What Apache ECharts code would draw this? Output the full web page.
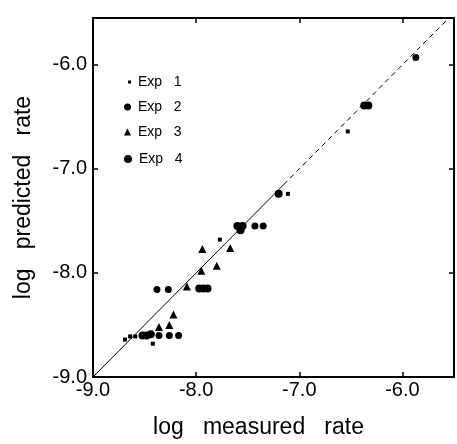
<!DOCTYPE html>
<html><head><meta charset="utf-8">
<script src="https://cdn.jsdelivr.net/npm/echarts@6/dist/echarts.min.js"></script>
<style>html,body{margin:0;padding:0;background:#fff}#c{width:457px;height:444px}</style>
</head><body><div id="c"></div>
<script>
// Axis ranges / tick labels
const xRange = [-9.0, -5.5];
const yRange = [-9.0, -5.55];
const tickValues = [-9, -8, -7, -6];
const tickLabels = ['-9.0', '-8.0', '-7.0', '-6.0'];

// Identity line (predicted = measured), solid and dashed parts
const lineSolid = [[-9.0, -9.0], [-7.15, -7.15]];
const lineDashed = [[-7.15, -7.15], [-5.5, -5.5]];

// Experiments: [log measured rate, log predicted rate]
const exp1 = [[-7.11, -7.24], [-7.77, -7.68], [-8.42, -8.68], [-8.69, -8.64], [-8.64, -8.61], [-8.59, -8.61], [-6.53, -6.64]];
const exp2 = [[-5.87, -5.93], [-7.43, -7.55], [-7.35, -7.55], [-8.38, -8.16], [-8.27, -8.16], [-8.36, -8.60], [-8.26, -8.60], [-8.17, -8.60]];
const exp3 = [[-7.94, -7.77], [-7.67, -7.76], [-7.80, -7.93], [-7.95, -7.98], [-8.09, -8.13], [-8.22, -8.40], [-8.26, -8.50], [-8.36, -8.52]];
const exp4 = [[-6.37, -6.39], [-6.33, -6.39], [-7.20, -7.24], [-7.60, -7.55], [-7.55, -7.55], [-7.57, -7.59],
              [-7.97, -8.15], [-7.93, -8.15], [-7.89, -8.15], [-8.52, -8.60], [-8.48, -8.60], [-8.44, -8.59]];

const names = ['Exp   1', 'Exp   2', 'Exp   3', 'Exp   4'];

const font = 'Liberation Sans, Arial, sans-serif';
function fmt(v) {
  const i = tickValues.indexOf(Math.round(v * 100) / 100);
  return i >= 0 ? tickLabels[i] : '';
}
const axisCommon = {
  type: 'value', interval: 1,
  axisLine: { show: true, onZero: false, lineStyle: { color: '#000', width: 2 } },
  axisTick: { show: true, inside: true, length: 5, lineStyle: { color: '#000', width: 1.5 } },
  splitLine: { show: false }
};
const chart = echarts.init(document.getElementById('c'), null, { renderer: 'canvas' });
const legendBase = {
  orient: 'vertical', left: 119, itemGap: 0,
  textStyle: { fontFamily: font, fontSize: 14, color: '#000', padding: [0, 0, 0, 2] },
  selectedMode: false
};
const mark = { color: '#000', opacity: 1 };
chart.setOption({
  animation: false,
  backgroundColor: '#fff',
  grid: { left: 93, right: 3, top: 18, bottom: 62, show: false },
  legend: [
    Object.assign({}, legendBase, { data: [{ name: names[0], icon: 'rect' }], itemWidth: 3, itemHeight: 3, top: 70, left: 123 }),
    Object.assign({}, legendBase, { data: [{ name: names[1], icon: 'circle' }], itemWidth: 7, itemHeight: 7, top: 95 }),
    Object.assign({}, legendBase, { data: [{ name: names[2], icon: 'triangle' }], itemWidth: 7, itemHeight: 7, top: 120 }),
    Object.assign({}, legendBase, { data: [{ name: names[3], icon: 'circle' }], itemWidth: 8, itemHeight: 8, top: 147 })
  ],
  xAxis: [
    Object.assign({}, axisCommon, {
      min: xRange[0], max: xRange[1], position: 'bottom',
      name: 'log   measured   rate', nameLocation: 'middle', nameGap: 39,
      nameTextStyle: { fontFamily: font, fontSize: 23, color: '#000', padding: [0, 30, 0, 0] },
      axisLabel: { fontFamily: font, fontSize: 20, color: '#000', margin: 3, formatter: fmt, showMaxLabel: false }
    }),
    Object.assign({}, axisCommon, {
      min: xRange[0], max: xRange[1], position: 'top', axisLabel: { show: false }
    })
  ],
  yAxis: [
    Object.assign({}, axisCommon, {
      min: yRange[0], max: yRange[1], position: 'left',
      name: 'log   predicted   rate', nameLocation: 'middle', nameGap: 58,
      nameTextStyle: { fontFamily: font, fontSize: 23, color: '#000' },
      axisLabel: { fontFamily: font, fontSize: 20, color: '#000', margin: 6, formatter: fmt, showMaxLabel: false }
    }),
    Object.assign({}, axisCommon, {
      min: yRange[0], max: yRange[1], position: 'right', axisLabel: { show: false }
    })
  ],
  series: [
    { type: 'line', data: lineSolid, symbol: 'none', silent: true, lineStyle: { color: '#000', width: 1 } },
    { type: 'line', data: lineDashed, symbol: 'none', silent: true, lineStyle: { color: '#000', width: 1, type: [5, 4] } },
    { name: names[0], type: 'scatter', data: exp1, symbol: 'rect', symbolSize: 4, itemStyle: mark },
    { name: names[1], type: 'scatter', data: exp2, symbol: 'circle', symbolSize: 7, itemStyle: mark },
    { name: names[2], type: 'scatter', data: exp3, symbol: 'triangle', symbolSize: 8, itemStyle: mark },
    { name: names[3], type: 'scatter', data: exp4, symbol: 'circle', symbolSize: 8, itemStyle: mark }
  ]
});
</script>
</body></html>
